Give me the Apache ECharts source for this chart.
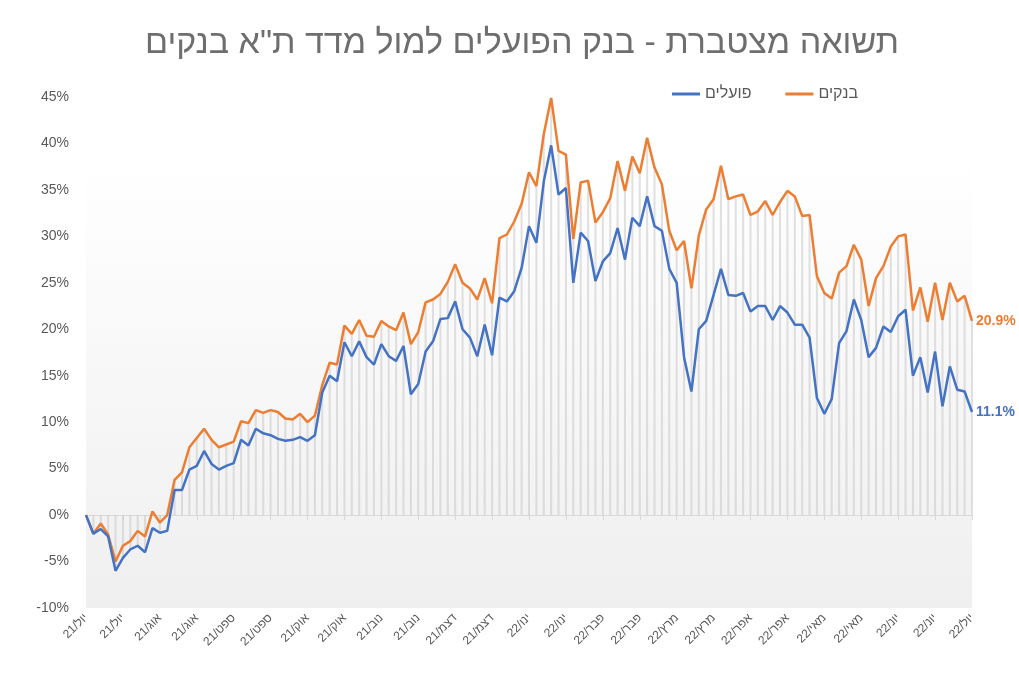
<!DOCTYPE html>
<html>
<head>
<meta charset="utf-8">
<title>תשואה מצטברת</title>
<script src="https://cdn.jsdelivr.net/npm/echarts@6/dist/echarts.min.js"></script>
<style>
    html, body { margin: 0; padding: 0; background: #fff; }
    #chart { width: 1019px; height: 673px; }
</style>
</head>
<body>
<div id="chart"></div>
<script>
// תוויות הציר האופקי - אחת לכל 5 נקודות
var tickLabels = ['יול/21', 'יול/21', 'אוג/21', 'אוג/21', 'ספט/21', 'ספט/21', 'אוק/21', 'אוק/21',
    'נוב/21', 'נוב/21', 'דצמ/21', 'דצמ/21', 'ינו/22', 'ינו/22', 'פבר/22', 'פבר/22',
    'מרץ/22', 'מרץ/22', 'אפר/22', 'אפר/22', 'מאי/22', 'מאי/22', 'יונ/22', 'יונ/22', 'יול/22'];
var labelStep = 5;

// מדד ת"א בנקים (%)
var banks = [0, -2.0, -0.9, -2.1, -5.0, -3.3, -2.8, -1.7, -2.3, 0.4,
    -0.8, 0.0, 3.8, 4.6, 7.3, 8.3, 9.3, 8.1, 7.3, 7.6,
    7.9, 10.1, 9.9, 11.3, 11.0, 11.3, 11.1, 10.4, 10.3, 10.9,
    10.0, 10.7, 14.0, 16.4, 16.2, 20.4, 19.5, 21.0, 19.3, 19.2,
    20.9, 20.3, 19.9, 21.8, 18.4, 19.7, 22.9, 23.2, 23.8, 25.1,
    27.0, 25.0, 24.4, 23.2, 25.5, 22.8, 29.8, 30.2, 31.6, 33.5,
    36.9, 35.4, 41.0, 44.9, 39.2, 38.8, 29.7, 35.8, 36.0, 31.5,
    32.6, 34.1, 38.1, 34.9, 38.6, 36.8, 40.6, 37.4, 35.6, 30.6,
    28.5, 29.5, 24.4, 30.1, 32.9, 34.0, 37.6, 34.0, 34.3, 34.5,
    32.3, 32.7, 33.8, 32.3, 33.7, 34.9, 34.3, 32.2, 32.3, 25.7,
    23.9, 23.3, 26.1, 26.8, 29.1, 27.5, 22.5, 25.5, 26.8, 28.9,
    30.0, 30.2, 22.0, 24.5, 20.8, 25.0, 21.0, 25.0, 23.0, 23.6,
    20.9];

// בנק הפועלים (%)
var poalim = [0, -2.0, -1.5, -2.3, -6.0, -4.6, -3.7, -3.3, -4.0, -1.4,
    -1.9, -1.7, 2.7, 2.7, 4.9, 5.3, 6.9, 5.5, 4.9, 5.3,
    5.6, 8.1, 7.5, 9.3, 8.8, 8.6, 8.2, 8.0, 8.1, 8.4,
    8.0, 8.6, 13.2, 15.0, 14.4, 18.6, 17.1, 18.7, 17.0, 16.2,
    18.4, 17.1, 16.6, 18.2, 13.0, 14.1, 17.6, 18.7, 21.1, 21.2,
    23.0, 20.0, 19.1, 17.1, 20.5, 17.2, 23.4, 23.0, 24.1, 26.6,
    31.1, 29.3, 35.9, 39.8, 34.5, 35.2, 25.0, 30.4, 29.5, 25.2,
    27.3, 28.2, 30.9, 27.5, 32.0, 31.1, 34.3, 31.1, 30.6, 26.5,
    25.0, 17.0, 13.3, 20.0, 20.9, 23.7, 26.5, 23.7, 23.6, 23.9,
    21.9, 22.5, 22.5, 21.0, 22.5, 21.8, 20.5, 20.5, 19.1, 12.6,
    10.9, 12.5, 18.5, 19.8, 23.2, 21.0, 17.0, 18.0, 20.3, 19.7,
    21.4, 22.1, 15.0, 17.0, 13.2, 17.6, 11.7, 16.0, 13.5, 13.3,
    11.1];

var yTicks = { min: -10, max: 45, step: 5 };

var cats = banks.map(function (v, i) { return String(i); });
// קווי הטלה אל הציר (כמו drop lines באקסל)
var drops = banks.map(function (v, i) {
    var p = poalim[i];
    return v >= 0 ? Math.max(v, p) : Math.min(v, p);
});

var textGray = '#595959';
var font = '"Liberation Sans", "DejaVu Sans", Arial, sans-serif';

var myChart = echarts.init(document.getElementById('chart'));
var option = {
    backgroundColor: '#fff',
    animation: false,
    textStyle: { fontFamily: font },
    title: {
        text: 'תשואה מצטברת - בנק הפועלים למול מדד ת"א בנקים',
        left: 140,
        top: 22,
        textStyle: { fontSize: 34, fontWeight: 'normal', color: '#6e6e6e', fontFamily: font }
    },
    legend: {
        data: ['פועלים', 'בנקים'],
        left: 667,
        top: 81,
        icon: 'rect',
        itemWidth: 28,
        itemHeight: 3,
        itemGap: 34,
        textStyle: { fontSize: 16, color: textGray, fontFamily: font }
    },
    grid: {
        left: 86,
        right: 47,
        top: 97,
        bottom: 65,
        show: true,
        borderWidth: 0,
        backgroundColor: new echarts.graphic.LinearGradient(0, 0, 0, 1, [
            { offset: 0, color: '#ffffff' },
            { offset: 0.12, color: '#ffffff' },
            { offset: 1, color: '#efefef' }
        ])
    },
    xAxis: [{
        type: 'category',
        data: cats,
        boundaryGap: false,
        axisLine: { onZero: true, lineStyle: { color: '#d9d9d9', width: 1 } },
        axisTick: { show: true, interval: labelStep - 1, length: 5, lineStyle: { color: '#d9d9d9' } },
        axisLabel: { show: false },
        splitLine: { show: false }
    }, {
        type: 'category',
        data: cats,
        boundaryGap: false,
        position: 'bottom',
        axisLine: { show: false, onZero: false },
        axisTick: { show: false },
        axisLabel: {
            interval: labelStep - 1,
            rotate: 45,
            margin: 8,
            fontSize: 12,
            color: textGray,
            fontFamily: font,
            formatter: function (v, idx) {
                return tickLabels[Math.round(idx / labelStep)] || '';
            }
        },
        splitLine: { show: false }
    }],
    yAxis: {
        type: 'value',
        min: yTicks.min,
        max: yTicks.max,
        interval: yTicks.step,
        axisLine: { show: false },
        axisTick: { show: false },
        splitLine: { show: false },
        axisLabel: {
            margin: 17,
            fontSize: 14,
            color: textGray,
            fontFamily: font,
            formatter: '{value}%'
        }
    },
    series: [{
        name: 'drops',
        type: 'bar',
        data: drops,
        barWidth: 2,
        silent: true,
        z: 1,
        itemStyle: { color: 'rgba(195,195,195,0.5)' }
    }, {
        name: 'בנקים',
        type: 'line',
        data: banks,
        symbol: 'none',
        z: 3,
        lineStyle: { color: '#ED7D31', width: 2.5 },
        itemStyle: { color: '#ED7D31' },
        endLabel: {
            show: true,
            distance: 4,
            color: '#ED7D31',
            fontWeight: 'bold',
            fontSize: 14,
            fontFamily: font,
            formatter: function (p) { return p.value.toFixed(1) + '%'; }
        }
    }, {
        name: 'פועלים',
        type: 'line',
        data: poalim,
        symbol: 'none',
        z: 4,
        lineStyle: { color: '#4472C4', width: 2.5 },
        itemStyle: { color: '#4472C4' },
        endLabel: {
            show: true,
            distance: 4,
            color: '#4472C4',
            fontWeight: 'bold',
            fontSize: 14,
            fontFamily: font,
            formatter: function (p) { return p.value.toFixed(1) + '%'; }
        }
    }]
};
myChart.setOption(option);
window.onresize = myChart.resize;
</script>
</body>
</html>
